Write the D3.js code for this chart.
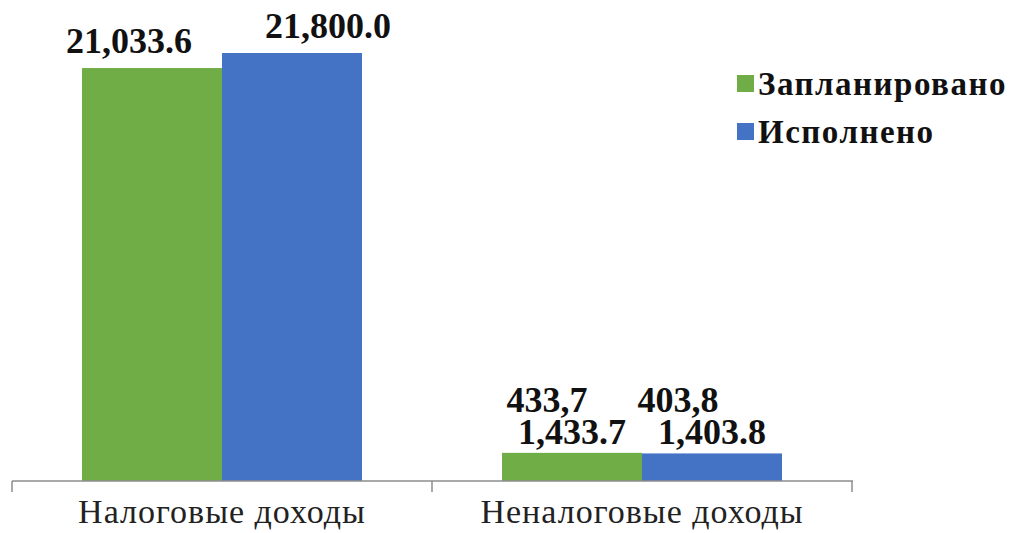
<!DOCTYPE html>
<html>
<head>
<meta charset="utf-8">
<script src="https://cdn.jsdelivr.net/npm/d3@7"></script>
<style>
  @font-face { font-family: "ChartSerif"; font-weight: 400; src: local("Liberation Serif"), local("LiberationSerif"), local("Times New Roman"), local("Tinos"); }
  @font-face { font-family: "ChartSerif"; font-weight: 700; src: local("Liberation Serif Bold"), local("LiberationSerif-Bold"), local("Times New Roman Bold"), local("Tinos Bold"); }
  html, body { margin: 0; padding: 0; background: #fff; }
  svg { display: block; }
</style>
</head>
<body>
<svg id="chart" width="1022" height="533"></svg>
<script>
// ---- data ----
const categories = ["Налоговые доходы", "Неналоговые доходы"];
const seriesNames = ["Запланировано", "Исполнено"];
const planned = [21033.6, 1433.7];
const executed = [21800.0, 1403.8];
const plannedLabels = ["21,033.6", "1,433.7"];
const executedLabels = ["21,800.0", "1,403.8"];
const extraLabels = ["433,7", "403,8"]; // secondary labels on 2nd category (planned, executed)
const colors = ["#70AD47", "#4472C4"];

const FONT = '"Liberation Serif", "ChartSerif", "Tinos", "Times New Roman"';

// ---- layout ----
const svg = d3.select("#chart");
const axisY = 481;
const x0 = d3.scaleBand().domain(categories).range([12, 852]).paddingInner(0).paddingOuter(0);
const x1 = d3.scaleBand().domain(seriesNames).range([0, x0.bandwidth()]).paddingInner(0).paddingOuter(0.5);
const y = d3.scaleLinear().domain([0, 21800]).range([axisY, 53]);

const rows = [];
categories.forEach((c, i) => {
  rows.push({cat: c, s: seriesNames[0], v: planned[i], label: plannedLabels[i], ci: i, si: 0});
  rows.push({cat: c, s: seriesNames[1], v: executed[i], label: executedLabels[i], ci: i, si: 1});
});

function serif(sel) {
  return sel.attr("font-family", FONT).style("font-family", FONT);
}

// bars
svg.append("g").selectAll("rect").data(rows).join("rect")
  .attr("x", d => x0(d.cat) + x1(d.s))
  .attr("y", d => y(d.v))
  .attr("width", x1.bandwidth())
  .attr("height", d => y(0) - y(d.v))
  .attr("fill", d => colors[d.si]);

// axis
const axis = d3.axisBottom(x0).tickSize(0).tickFormat("");
const gAxis = svg.append("g").attr("transform", `translate(0,${axisY})`).call(axis);
gAxis.select(".domain").remove();
gAxis.append("line").attr("x1", 12).attr("x2", 853).attr("y1", 0).attr("y2", 0)
  .attr("stroke", "#8c8c8c").attr("stroke-width", 1.5);
const tickXs = [x0(categories[0]), x0(categories[1]), x0(categories[1]) + x0.bandwidth()];
gAxis.selectAll("line.tk").data(tickXs).join("line").attr("class", "tk")
  .attr("x1", d => d).attr("x2", d => d).attr("y1", 0).attr("y2", 11)
  .attr("stroke", "#8c8c8c").attr("stroke-width", 1.5);

// category labels
svg.append("g").selectAll("text").data(categories).join("text")
  .attr("x", d => x0(d) + x0.bandwidth() / 2)
  .attr("y", 523)
  .attr("text-anchor", "middle")
  .call(serif)
  .attr("font-size", 34)
  .attr("letter-spacing", 1)
  .attr("fill", "#222")
  .text(d => d);

// value labels
const labelDx = [[-23, 36], [0, 0]];
const labelDy = [15, 9];
svg.append("g").selectAll("text").data(rows).join("text")
  .attr("x", d => x0(d.cat) + x1(d.s) + x1.bandwidth() / 2 + labelDx[d.ci][d.si])
  .attr("y", d => y(d.v) - labelDy[d.ci])
  .attr("text-anchor", "middle")
  .call(serif)
  .attr("font-weight", "bold")
  .attr("font-size", 36)
  .attr("fill", "#111")
  .text(d => d.label);

const extraDx = [-25, -34];
svg.append("g").selectAll("text").data(rows.filter(d => d.ci === 1)).join("text")
  .attr("x", (d, i) => x0(d.cat) + x1(d.s) + x1.bandwidth() / 2 + extraDx[i])
  .attr("y", d => y(d.v) - 41)
  .attr("text-anchor", "middle")
  .call(serif)
  .attr("font-weight", "bold")
  .attr("font-size", 36)
  .attr("fill", "#111")
  .text((d, i) => extraLabels[i]);

// legend
const legend = svg.append("g").attr("transform", "translate(737,75)");
seriesNames.forEach((s, i) => {
  const g = legend.append("g").attr("transform", `translate(0,${i * 48})`);
  g.append("rect").attr("width", 17).attr("height", 17).attr("fill", colors[i]);
  g.append("text").attr("x", 21).attr("y", 20)
    .call(serif)
    .attr("font-weight", "bold").attr("font-size", 33)
    .attr("letter-spacing", 1.5).attr("fill", "#111")
    .text(s);
});
</script>
</body>
</html>
